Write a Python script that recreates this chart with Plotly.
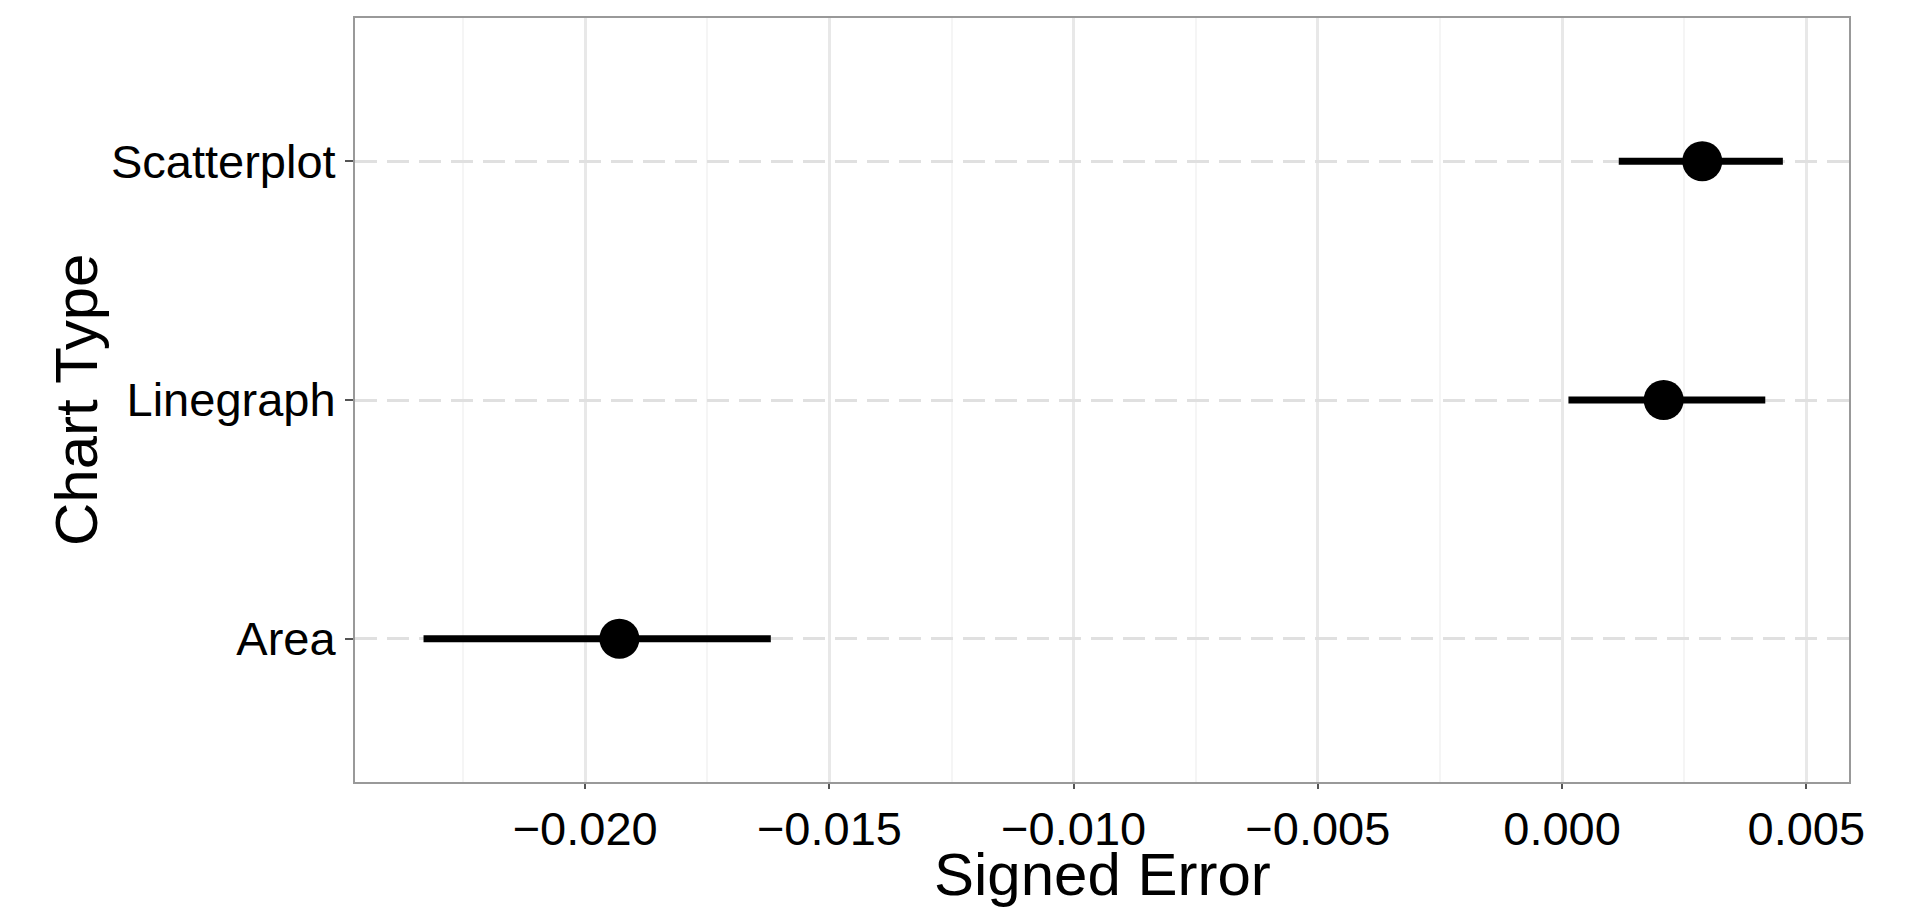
import plotly.graph_objects as go

categories = ["Area", "Linegraph", "Scatterplot"]
mean_err = [-0.01930, 0.00208, 0.00287]
ci_low = [-0.02331, 0.00013, 0.00116]
ci_high = [-0.01620, 0.00416, 0.00452]

x_ticks = [-0.020, -0.015, -0.010, -0.005, 0.000, 0.005]
x_tick_labels = ["\u22120.020", "\u22120.015", "\u22120.010", "\u22120.005", "0.000", "0.005"]
x_title = "Signed Error"
y_title = "Chart Type"

err_plus = [h - m for h, m in zip(ci_high, mean_err)]
err_minus = [m - l for m, l in zip(mean_err, ci_low)]

fig = go.Figure()
fig.add_vline(x=0, line=dict(color="black", width=2), layer="below")
fig.add_trace(go.Scatter(
    x=mean_err, y=categories, mode="markers",
    marker=dict(size=40, color="black"),
    error_x=dict(type="data", symmetric=False, array=err_plus, arrayminus=err_minus,
                 thickness=7, width=0, color="black"),
    showlegend=False,
))

font_family = "Liberation Sans, Arial, sans-serif"
# the page body adds an 8px offset; margins compensate for it
fig.update_layout(
    width=1911, height=908,
    margin=dict(l=347, r=70, t=10, b=134),
    plot_bgcolor="white", paper_bgcolor="white",
    font=dict(family=font_family, color="black"),
    xaxis=dict(
        range=[-0.024713, 0.005874], automargin=False,
        tickmode="array", tickvals=x_ticks, ticktext=x_tick_labels,
        tickfont=dict(size=47, color="black"),
        showgrid=True, gridcolor="#e8e8e8", gridwidth=2.5,
        minor=dict(dtick=0.0025, tick0=0, showgrid=True, gridcolor="#f5f5f5", gridwidth=2),
        zeroline=False,
        showline=True, linecolor="#999999", linewidth=2, mirror=True,
        ticks="outside", ticklen=5, tickcolor="#555555", tickwidth=2,
    ),
    yaxis=dict(
        type="category", categoryorder="array", categoryarray=categories,
        range=[-0.6, 2.6], automargin=False,
        tickfont=dict(size=47, color="black"),
        showgrid=True, gridcolor="#e0e0e0", gridwidth=3, griddash="22px,10px",
        zeroline=False,
        showline=True, linecolor="#999999", linewidth=2, mirror=True,
        ticks="outside", ticklen=8, tickcolor="#555555", tickwidth=2,
    ),
    annotations=[
        dict(text=x_title, xref="paper", yref="paper", x=0.5, y=0,
             xanchor="center", yanchor="middle", yshift=-92, showarrow=False,
             font=dict(size=60, color="black")),
        dict(text=y_title, xref="paper", yref="paper", x=0, y=0.5, textangle=-90,
             xanchor="center", yanchor="middle", xshift=-279, showarrow=False,
             font=dict(size=60, color="black")),
    ],
)

fig.write_html("out.html")
